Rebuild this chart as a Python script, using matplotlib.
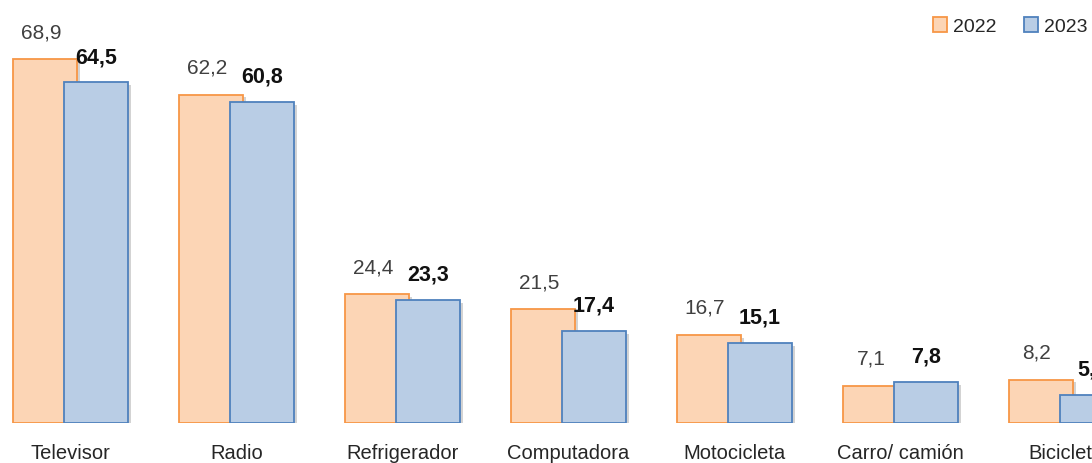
import numpy as np
import matplotlib
matplotlib.use("Agg")
import matplotlib.pyplot as plt
import matplotlib.patheffects as pe
from matplotlib.patches import Patch

# --- Data ---
categories = ["Televisor", "Radio", "Refrigerador", "Computadora", "Motocicleta", "Carro/ camión", "Bicicleta"]
vals_2022 = [68.9, 62.2, 24.4, 21.5, 16.7, 7.1, 8.2]
vals_2023 = [64.5, 60.8, 23.3, 17.4, 15.1, 7.8, 5.3]
series_names = ["2022", "2023"]

# --- Style ---
plt.rcParams['font.family'] = ['Liberation Sans', 'DejaVu Sans']
ORANGE_FACE = "#FCD5B5"
ORANGE_EDGE = "#F79646"
BLUE_FACE = "#B9CDE5"
BLUE_EDGE = "#4F81BD"

fig = plt.figure(figsize=(10.92, 4.64), dpi=100)
ax = fig.add_axes([0, 40 / 464, 1, 424 / 464])

x = np.arange(len(categories))
w = 0.3855
off = 0.1536
shadow = [pe.SimplePatchShadow(offset=(2, -2), alpha=0.3, shadow_rgbFace="#6f6f6f"), pe.Normal()]

b1 = ax.bar(x - off, vals_2022, w, color=ORANGE_FACE, edgecolor=ORANGE_EDGE, linewidth=1.3, zorder=2)
b2 = ax.bar(x + off, vals_2023, w, color=BLUE_FACE, edgecolor=BLUE_EDGE, linewidth=1.3, zorder=3)
for b in list(b1) + list(b2):
    b.set_path_effects(shadow)

def fmt(v):
    return f"{v:.1f}".replace(".", ",")

for xi, v in zip(x - off, vals_2022):
    ax.annotate(fmt(v), (xi, v), xytext=(-3, 13), textcoords="offset points",
                ha="center", va="bottom", fontsize=15, color="#404040", zorder=5)
for xi, v in zip(x + off, vals_2023):
    ax.annotate(fmt(v), (xi, v), xytext=(0, 11), textcoords="offset points",
                ha="center", va="bottom", fontsize=15.5, fontweight="bold", color="#111111", zorder=5)

ax.set_xticks(x)
ax.set_xticklabels(categories, fontsize=14.5, color="#262626")
ax.tick_params(axis="x", length=0, pad=14.5)
ax.set_yticks([])
ax.set_xlim(-70.5 / 166, (1092 - 70.5) / 166)
ax.set_ylim(0, 424 / 5.28)
for s in ax.spines.values():
    s.set_visible(False)

handles = [Patch(facecolor=ORANGE_FACE, edgecolor=ORANGE_EDGE, linewidth=1.3),
           Patch(facecolor=BLUE_FACE, edgecolor=BLUE_EDGE, linewidth=1.3)]
leg = fig.legend(handles, series_names, loc="upper right", bbox_to_anchor=(1.012, 0.998), ncol=2,
                 frameon=False, fontsize=14, handlelength=0.75, handleheight=0.75,
                 handletextpad=0.3, columnspacing=1.4, labelcolor="#262626")

fig.savefig("out.png", dpi=100)
